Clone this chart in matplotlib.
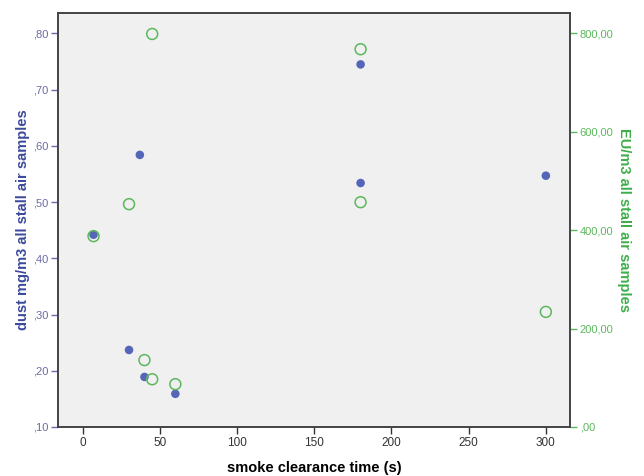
import matplotlib
matplotlib.use("Agg")
import matplotlib.pyplot as plt
from matplotlib.ticker import FuncFormatter

# smoke clearance time (s) vs dust and endotoxin
x_dust = [7, 30, 37, 40, 60, 180, 180, 300]
dust = [0.442, 0.237, 0.584, 0.189, 0.159, 0.745, 0.534, 0.547]

x_eu = [7, 30, 40, 45, 45, 60, 180, 180, 300]
eu = [388, 453, 136, 97, 799, 87, 768, 457, 234]

x_ticks = [0, 50, 100, 150, 200, 250, 300]
dust_ticks = [0.1, 0.2, 0.3, 0.4, 0.5, 0.6, 0.7, 0.8]
eu_ticks = [0, 200, 400, 600, 800]

blue = '#5566b8'
blue_txt = '#3c4a9c'
green = '#5cb85c'
green_txt = '#3fae49'

plt.rcParams['font.family'] = ['Liberation Sans', 'DejaVu Sans']


def comma_fmt(v, pos=None):
    s = f"{v:.2f}".replace('.', ',')
    if s.startswith('0,'):
        s = s[1:]
    return s


fig = plt.figure(figsize=(6.44, 4.76), dpi=100)
ax = fig.add_axes([0.0896, 0.103, 0.7954, 0.870])
ax.set_facecolor('#f0f0f0')

ax.scatter(x_dust, dust, s=38, color=blue, edgecolors='none', zorder=3)
ax.set_xlim(-16.2, 315.6)
ax.set_ylim(0.10, 0.8367)
ax.set_xticks(x_ticks)
ax.set_yticks(dust_ticks)
ax.yaxis.set_major_formatter(FuncFormatter(comma_fmt))
ax.tick_params(axis='y', colors='#6a6aa8', labelsize=8, length=5, width=1, pad=2)
ax.tick_params(axis='x', colors='#333333', labelsize=8.5, length=5, width=1, pad=2)
ax.set_xlabel('smoke clearance time (s)', fontsize=10.5, fontweight='bold', labelpad=9)
ax.set_ylabel('dust mg/m3 all stall air samples', fontsize=10.5, fontweight='bold',
              color=blue_txt, labelpad=2)

ax2 = ax.twinx()
ax2.scatter(x_eu, eu, s=62, facecolors='none', edgecolors=green, linewidths=1.1, zorder=3)
ax2.set_ylim(0, (0.8367 - 0.1) / 0.7 * 800)
ax2.set_yticks(eu_ticks)
ax2.yaxis.set_major_formatter(FuncFormatter(comma_fmt))
ax2.tick_params(axis='y', colors=green, labelsize=8, length=5, width=1, pad=2)
ax2.set_ylabel('EU/m3 all stall air samples', fontsize=10.5, fontweight='bold',
               color=green_txt, rotation=270, labelpad=13)

for a in (ax, ax2):
    for sp in a.spines.values():
        sp.set_color('#444444')
        sp.set_linewidth(1.2)

fig.savefig('out.png', dpi=100)
